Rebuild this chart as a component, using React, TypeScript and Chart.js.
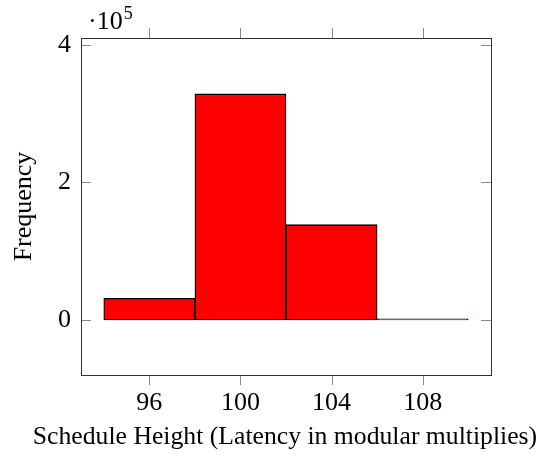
import React, { useEffect, useRef } from 'react';
import { Chart, registerables } from 'chart.js';
Chart.register(...registerables);

const binCenters = [96, 100, 104, 108];
const frequencies = [31600, 328700, 138600, 1800];
const xTickValues = [96, 100, 104, 108];
const yTickValues = [0, 200000, 400000];
const xTitle = 'Schedule Height (Latency in modular multiplies)';
const yTitle = 'Frequency';
const X_MIN = 93;
const X_MAX = 111;
const Y_MIN = -80000;
const Y_MAX = 410000;

const W = 547;
const H = 458;
const FONT = "'Liberation Serif', 'Times New Roman', serif";

const framePlugin = {
  id: 'framePlugin',
  afterDraw(chart: any) {
    const { ctx, chartArea, scales } = chart;
    const { left, right, top, bottom } = chartArea;
    ctx.save();
    ctx.strokeStyle = '#8a8a8a';
    ctx.lineWidth = 1;
    const tl = 10;
    for (const v of yTickValues) {
      const y = Math.round(scales.y.getPixelForValue(v)) + 0.5;
      ctx.beginPath();
      ctx.moveTo(left, y);
      ctx.lineTo(left + tl, y);
      ctx.moveTo(right, y);
      ctx.lineTo(right - tl, y);
      ctx.stroke();
    }
    for (const v of xTickValues) {
      const x = Math.round(scales.x.getPixelForValue(v)) + 0.5;
      ctx.beginPath();
      ctx.moveTo(x, bottom);
      ctx.lineTo(x, bottom + tl);
      ctx.moveTo(x, top);
      ctx.lineTo(x, top - tl);
      ctx.stroke();
    }
    ctx.strokeStyle = '#333';
    ctx.lineWidth = 1;
    ctx.strokeRect(Math.round(left) + 0.5, Math.round(top) + 0.5, Math.round(right - left), Math.round(bottom - top));
    ctx.fillStyle = '#000';
    ctx.textAlign = 'center';
    ctx.textBaseline = 'middle';
    ctx.font = `25.7px ${FONT}`;
    ctx.fillText(xTitle, 285, 437);
    ctx.textBaseline = 'alphabetic';
    ctx.textAlign = 'left';
    ctx.font = `26px ${FONT}`;
    ctx.fillText('\u00b710', 88, 29);
    const w = ctx.measureText('\u00b710').width;
    ctx.font = `18px ${FONT}`;
    ctx.fillText('5', 88 + w + 1, 19);
    ctx.restore();
  },
};

export default function App() {
  const ref = useRef<HTMLCanvasElement>(null);
  useEffect(() => {
    if (!ref.current) return;
    const chart = new Chart(ref.current, {
      type: 'bar',
      data: {
        datasets: [
          {
            data: binCenters.map((x, i) => ({ x, y: frequencies[i] })),
            backgroundColor: '#ff0000',
            borderColor: '#000000',
            borderWidth: 1.3,
            borderSkipped: false,
            barPercentage: 1,
            categoryPercentage: 1,
          } as any,
        ],
      },
      options: {
        animation: false,
        responsive: false,
        devicePixelRatio: 1,
        layout: { padding: { left: 0, top: 38, right: 56, bottom: 0 } },
        plugins: { legend: { display: false }, tooltip: { enabled: false } },
        scales: {
          x: {
            type: 'linear',
            offset: false,
            min: X_MIN,
            max: X_MAX,
            afterBuildTicks: (s: any) => {
              s.ticks = xTickValues.map((v) => ({ value: v }));
            },
            afterFit: (s: any) => {
              s.height = 83;
            },
            grid: { display: false, drawTicks: false, offset: false },
            border: { display: false },
            ticks: {
              color: '#000',
              font: { family: FONT, size: 26 },
              padding: 13,
              maxRotation: 0,
              autoSkip: false,
            },
            title: { display: false, text: xTitle },
          },
          y: {
            type: 'linear',
            min: Y_MIN,
            max: Y_MAX,
            afterBuildTicks: (s: any) => {
              s.ticks = yTickValues.map((v) => ({ value: v }));
            },
            afterFit: (s: any) => {
              s.width = 81;
            },
            grid: { display: false, drawTicks: false },
            border: { display: false },
            ticks: {
              color: '#000',
              font: { family: FONT, size: 26 },
              padding: 10,
              callback: (v: any) => String(Number(v) / 1e5),
            },
            title: {
              display: true,
              text: yTitle,
              color: '#000',
              font: { family: FONT, size: 26 },
              padding: { top: 9, bottom: 0 },
            },
          },
        },
      },
      plugins: [framePlugin],
    });
    return () => chart.destroy();
  }, []);
  return (
    <div style={{ position: 'fixed', left: 0, top: 0, width: W, height: H, background: '#fff' }}>
      <canvas ref={ref} width={W} height={H} style={{ width: W, height: H, display: 'block' }} />
    </div>
  );
}
